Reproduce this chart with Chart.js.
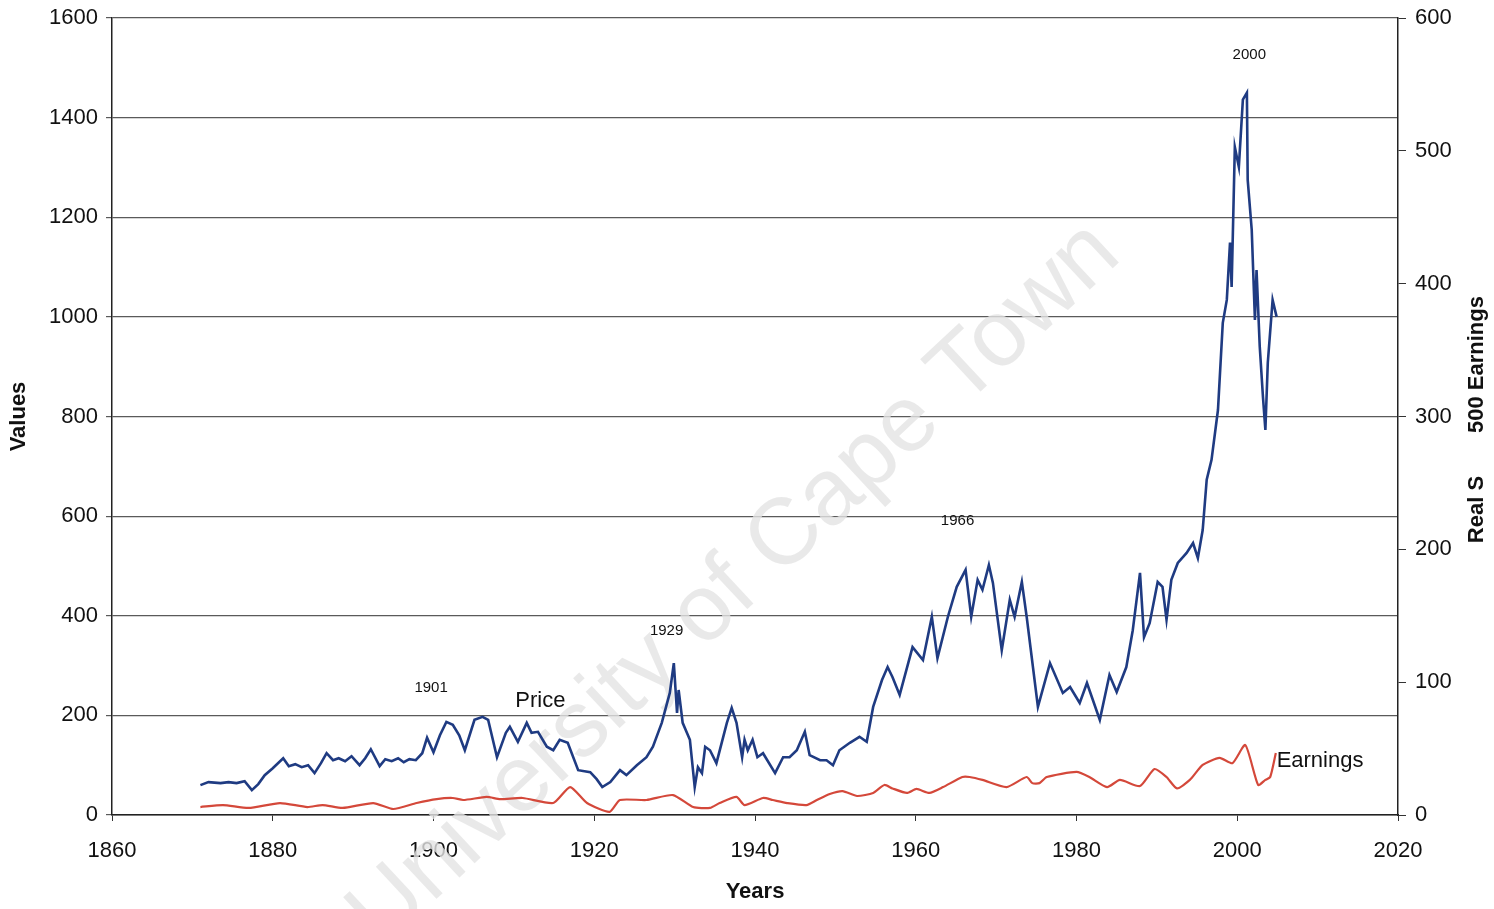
<!DOCTYPE html>
<html>
<head>
<meta charset="utf-8">
<script src="https://cdn.jsdelivr.net/npm/chart.js@4.4.1/dist/chart.umd.min.js"></script>
<style>
  body { margin: 0; background: #fff; }
  #wrap { width: 1494px; height: 909px; }
</style>
</head>
<body>
<div id="wrap"><canvas id="chart" width="1494" height="909"></canvas></div>
<script>
// Real S&P 500 price (left axis) and earnings (right axis)
const priceYears = [
  1871.0, 1872.0, 1873.5, 1874.5, 1875.5, 1876.5, 1877.4, 1878.2, 1879.0, 1880.0,
  1881.3, 1882.0, 1882.8, 1883.6, 1884.4, 1885.2, 1886.0, 1886.7, 1887.5, 1888.2,
  1889.0, 1889.8, 1890.8, 1891.5, 1892.2, 1893.3, 1894.0, 1894.8, 1895.6, 1896.3,
  1897.0, 1897.8, 1898.6, 1899.2, 1900.0, 1900.8, 1901.6, 1902.4, 1903.2, 1903.9,
  1905.1, 1906.1, 1906.8, 1907.9, 1909.0, 1909.5, 1910.5, 1911.6, 1912.2, 1913.0,
  1914.1, 1914.9, 1915.7, 1916.7, 1918.0, 1919.5, 1920.3, 1921.0, 1922.0, 1923.2,
  1924.0, 1925.3, 1926.5, 1927.3, 1928.4, 1929.4, 1929.9, 1930.3, 1930.5, 1931.0,
  1931.9, 1932.5, 1932.9, 1933.4, 1933.8, 1934.4, 1935.2, 1936.5, 1937.1, 1937.7,
  1938.4, 1938.7, 1939.1, 1939.7, 1940.3, 1941.0, 1942.5, 1943.5, 1944.3, 1945.2,
  1946.2, 1946.8, 1948.1, 1948.9, 1949.7, 1950.5, 1951.8, 1953.0, 1953.9, 1954.7,
  1955.8, 1956.5, 1957.1, 1958.0, 1959.6, 1960.9, 1962.0, 1962.7, 1964.0, 1965.1,
  1966.2, 1966.9, 1967.7, 1968.3, 1969.1, 1969.6, 1970.7, 1971.7, 1972.3, 1973.2,
  1973.8, 1975.2, 1976.7, 1978.3, 1979.2, 1980.4, 1981.3, 1982.9, 1984.1, 1985.0,
  1986.2, 1987.0, 1987.9, 1988.4, 1989.1, 1990.1, 1990.7, 1991.2, 1991.8, 1992.6,
  1993.7, 1994.5, 1995.1, 1995.7, 1996.2, 1996.8, 1997.6, 1998.2, 1998.7, 1999.1,
  1999.3, 1999.7, 2000.2, 2000.7, 2001.2, 2001.3, 2001.8, 2002.2, 2002.4, 2002.8,
  2003.2, 2003.5, 2003.8, 2004.4, 2004.9
];
const priceValues = [
  60, 66, 64, 66, 64, 68, 50, 62, 80, 94,
  114, 98, 102, 96, 100, 84, 104, 124, 110, 114,
  108, 118, 100, 114, 132, 98, 112, 108, 114, 106,
  112, 110, 124, 155, 126, 160, 187, 181, 160, 130,
  191, 197, 191, 116, 165, 177, 147, 185, 165, 167,
  137, 130, 151, 145, 90, 86, 72, 56, 66, 90,
  80, 100, 116, 137, 185, 245, 305, 205, 251, 185,
  151, 56, 96, 84, 137, 130, 104, 185, 215, 185,
  116, 151, 130, 151, 116, 124, 84, 116, 116, 130,
  167, 120, 110, 110, 100, 130, 145, 157, 147, 217,
  271, 297, 277, 241, 337, 311, 398, 315, 398, 458,
  492, 398, 472, 452, 502, 466, 331, 432, 398, 468,
  398, 217, 305, 245, 257, 225, 265, 191, 281, 247,
  297, 371, 486, 357, 385, 468, 458, 392, 472, 506,
  526, 546, 516, 572, 673, 713, 813, 988, 1034, 1149,
  1060, 1341, 1301, 1436, 1450, 1275, 1175, 994, 1094, 940,
  839, 773, 908, 1034, 1000
];

const earnYears = [
  1871.0, 1873.8, 1877.0, 1880.9, 1884.3, 1886.2, 1888.7, 1892.5, 1895.0, 1897.9,
  1900.4, 1902.4, 1903.7, 1906.6, 1908.3, 1911.1, 1914.9, 1917.0, 1919.1, 1921.9,
  1923.2, 1926.5, 1929.8, 1932.3, 1934.4, 1935.6, 1937.7, 1938.7, 1941.0, 1942.2,
  1944.0, 1946.4, 1947.7, 1949.3, 1950.9, 1952.7, 1954.7, 1956.1, 1957.1, 1958.9,
  1960.1, 1961.7, 1963.4, 1965.8, 1966.7, 1968.3, 1971.3, 1973.8, 1974.5, 1975.4,
  1976.3, 1980.0, 1981.6, 1983.8, 1985.4, 1987.9, 1989.7, 1991.2, 1992.5, 1994.1,
  1995.7, 1997.8, 1999.4, 2001.0, 2002.6, 2003.5, 2004.1, 2004.8
];
const earnValues = [
  6.0, 7.5, 5.3, 9, 6, 7.5, 5.3, 9, 4.5, 9,
  12, 12.8, 11.3, 13.6, 12, 12.8, 9, 21, 9, 2.3,
  11.3, 11.3, 15, 6, 5.3, 9, 13.6, 7.5, 12.8, 11.3,
  9, 7.5, 11.3, 15.8, 18, 14.3, 16.6, 22.6, 20, 16.6,
  19.6, 16.6, 21, 28.6, 28.6, 26.4, 21, 28.6, 24, 24,
  28.6, 32.4, 28.6, 21, 26.4, 21.8, 34.6, 28.6, 20, 26.4,
  37.7, 43, 39, 52.7, 22.6, 26.4, 28.6, 46.7
];

const xTickStep = 20;
const leftTickStep = 200;
const rightTickStep = 100;

const FONT = "'Liberation Sans', Arial, sans-serif";

// text notes placed in data units
const notes = [
  { text: "1901", x: 1899.7, y: 255, size: 15 },
  { text: "Price", x: 1913.3, y: 229, size: 22 },
  { text: "1929", x: 1929.0, y: 369, size: 15 },
  { text: "1966", x: 1965.2, y: 590, size: 15 },
  { text: "2000", x: 2001.5, y: 1526, size: 15 },
  { text: "Earnings", x: 2004.9, y: 108, size: 22, align: "left" }
];

const watermark = {
  id: "watermark",
  beforeDatasetsDraw(chart) {
    const ctx = chart.ctx;
    ctx.save();
    ctx.translate(735, 585);
    ctx.rotate(-43 * Math.PI / 180);
    ctx.font = "94px " + FONT;
    ctx.fillStyle = "rgba(228,228,228,0.8)";
    ctx.textAlign = "center";
    ctx.textBaseline = "middle";
    ctx.fillText("University of Cape Town", 0, 0);
    ctx.restore();
  }
};

const extras = {
  id: "extras",
  afterDatasetsDraw(chart) {
    const ctx = chart.ctx;
    const sx = chart.scales.x, sy = chart.scales.y;
    ctx.save();
    ctx.fillStyle = "#111";
    ctx.textBaseline = "middle";
    notes.forEach(n => {
      ctx.font = n.size + "px " + FONT;
      ctx.textAlign = n.align || "center";
      ctx.fillText(n.text, sx.getPixelForValue(n.x), sy.getPixelForValue(n.y));
    });
    ctx.restore();
  },
  afterDraw(chart) {
    // right axis title reads bottom to top
    const ctx = chart.ctx;
    const r = chart.scales.y1;
    ctx.save();
    ctx.translate(r.right - 17, (r.top + r.bottom) / 2 + 3);
    ctx.rotate(-Math.PI / 2);
    ctx.font = "bold 22px " + FONT;
    ctx.fillStyle = "#111";
    ctx.textAlign = "center";
    ctx.textBaseline = "middle";
    ctx.fillText("Real S", -90, 0);
    ctx.fillText("500 Earnings", 55, 0);
    ctx.restore();
  }
};

new Chart(document.getElementById("chart"), {
  type: "line",
  data: {
    datasets: [
      {
        label: "Price",
        data: priceYears.map((x, i) => ({ x, y: priceValues[i] })),
        yAxisID: "y",
        borderColor: "#1f3b82",
        borderWidth: 2.6,
        pointRadius: 0,
        tension: 0
      },
      {
        label: "Earnings",
        data: earnYears.map((x, i) => ({ x, y: earnValues[i] })),
        yAxisID: "y1",
        borderColor: "#d4483a",
        borderWidth: 2.2,
        pointRadius: 0,
        tension: 0.2
      }
    ]
  },
  options: {
    responsive: false,
    animation: false,
    layout: { padding: { top: 18, left: 0, right: 0, bottom: 0 } },
    plugins: { legend: { display: false }, tooltip: { enabled: false } },
    scales: {
      x: {
        type: "linear",
        min: 1860,
        max: 2020,
        afterFit: s => { s.height = 94; },
        ticks: { stepSize: xTickStep, color: "#111", font: { family: FONT, size: 22 }, padding: 17, maxRotation: 0, callback: v => String(v) },
        grid: { drawOnChartArea: false, tickLength: 6, color: "#333" },
        border: { color: "#222", width: 1.5 },
        title: { display: true, text: "Years", color: "#111", font: { family: FONT, size: 22, weight: "bold" }, padding: { top: 8 } }
      },
      y: {
        position: "left",
        min: 0,
        max: 1600,
        afterFit: s => { s.width = 112; },
        ticks: { stepSize: leftTickStep, color: "#111", font: { family: FONT, size: 22, lineHeight: 0.8 }, padding: 8, callback: v => String(v) },
        grid: { color: "#5a5a5a", lineWidth: 1.2, tickLength: 6 },
        border: { color: "#222", width: 1.5 },
        title: { display: true, text: "Values", color: "#111", font: { family: FONT, size: 22, weight: "bold" }, padding: { bottom: 0, top: 6 } }
      },
      y1: {
        position: "right",
        min: 0,
        max: 600,
        afterFit: s => { s.width = 96; },
        ticks: { stepSize: rightTickStep, color: "#111", font: { family: FONT, size: 22, lineHeight: 0.8 }, padding: 9, callback: v => String(v) },
        grid: { drawOnChartArea: false, tickLength: 8, color: "#333" },
        border: { color: "#222", width: 1.5 }
      }
    }
  },
  plugins: [watermark, extras]
});
</script>
</body>
</html>
